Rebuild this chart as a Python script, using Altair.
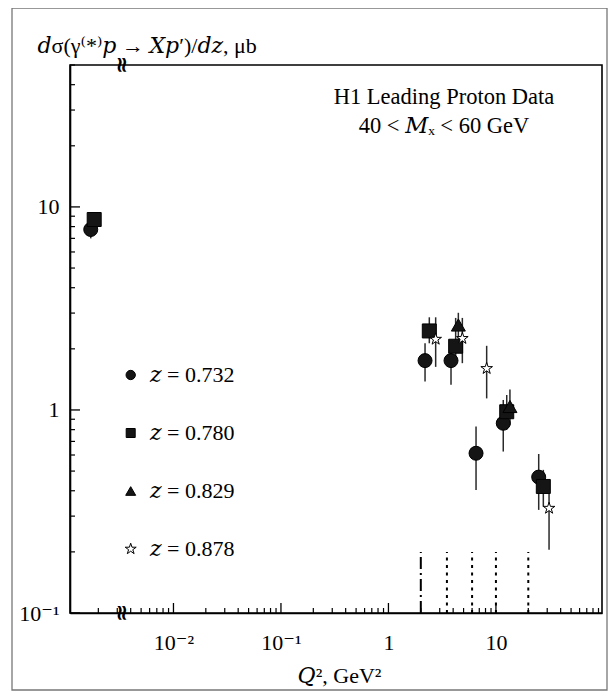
import altair as alt
import pandas as pd

# ---------------- data ----------------
series_labels = ["𝑧 = 0.732", "𝑧 = 0.780", "𝑧 = 0.829", "𝑧 = 0.878"]

# photoproduction points (Q^2 ~ 0) are drawn left of the axis break
q2_z0732 = [0.0017, 2.19, 3.82, 6.53, 11.7, 25.0]
val_z0732 = [7.74, 1.75, 1.75, 0.612, 0.86, 0.467]
lo_z0732 = [7.0, 1.38, 1.33, 0.404, 0.624, 0.322]
hi_z0732 = [8.5, 2.13, 2.14, 0.828, 1.12, 0.607]

q2_z0780 = [0.00183, 2.40, 4.22, 12.6, 27.6]
val_z0780 = [8.67, 2.45, 2.06, 0.98, 0.42]
lo_z0780 = [8.0, 2.13, 1.70, 0.80, 0.334]
hi_z0780 = [9.4, 2.86, 2.84, 1.185, 0.507]

q2_z0829 = [4.47, 13.5]
val_z0829 = [2.62, 1.04]
lo_z0829 = [2.21, 0.84]
hi_z0829 = [3.01, 1.26]

q2_z0878 = [2.75, 4.87, 8.2, 31.2]
val_z0878 = [2.23, 2.25, 1.60, 0.328]
lo_z0878 = [1.63, 1.70, 1.14, 0.205]
hi_z0878 = [2.86, 2.84, 2.07, 0.40]

bin_edges = [2.0, 3.5, 6.0, 10.0, 20.0]
bin_marker_range = [0.1, 0.2]
x_break = 0.0033

x_domain = [0.00109, 97.0]
y_domain = [0.1, 50.0]
x_label_values = [0.01, 0.1, 1.0, 10.0]
y_label_values = [0.1, 1.0, 10.0]

anno_line1 = "H1 Leading Proton Data"
anno_line2 = "40 < 𝑀ₓ < 60 GeV"
y_title = "𝑑σ(γ⁽*⁾𝑝 → 𝑋𝑝′)/𝑑𝑧, μb"
x_title = "𝑄², GeV²"

# ---------------- tables ----------------
rows = []
for lab, qs, vs, ls, hs in [
    (series_labels[0], q2_z0732, val_z0732, lo_z0732, hi_z0732),
    (series_labels[1], q2_z0780, val_z0780, lo_z0780, hi_z0780),
    (series_labels[2], q2_z0829, val_z0829, lo_z0829, hi_z0829),
    (series_labels[3], q2_z0878, val_z0878, lo_z0878, hi_z0878),
]:
    for q, v, l, h in zip(qs, vs, ls, hs):
        rows.append({"series": lab, "q2": q, "val": v, "lo": l, "hi": h})
df = pd.DataFrame(rows)
df_solid = df[df["series"] != series_labels[3]]
df_star = df[df["series"] == series_labels[3]]

bins_df = pd.DataFrame({"q2": bin_edges, "y0": bin_marker_range[0], "y1": bin_marker_range[1]})
break_df = pd.DataFrame({"q2": [x_break, x_break], "y": y_domain})

x_ticks = [k * 10.0 ** e for e in (-3, -2, -1, 0, 1) for k in range(1, 10)]
x_ticks = pd.DataFrame({"v": [t for t in x_ticks if x_domain[0] <= t <= x_domain[1]]})
y_ticks = [k * 10.0 ** e for e in (-1, 0, 1) for k in range(1, 10)]
y_ticks = pd.DataFrame({"v": [t for t in y_ticks if y_domain[0] <= t <= y_domain[1]]})

W, H = 532, 548
FONT = "Liberation Serif, DejaVu Serif, serif"
STAR = ("M0,-1L0.2245,-0.309L0.951,-0.309L0.363,0.118L0.588,0.809L0,0.382"
        "L-0.588,0.809L-0.363,0.118L-0.951,-0.309L-0.2245,-0.309Z")
SHAPES = ["circle", "square", "triangle-up", STAR]

xscale = alt.Scale(type="log", domain=x_domain, nice=False)
yscale = alt.Scale(type="log", domain=y_domain, nice=False)
shape_scale = alt.Scale(domain=series_labels, range=SHAPES)
fill_scale = alt.Scale(domain=series_labels, range=["#151515", "#151515", "#151515", "white"])

major_test = "abs(log(datum.v)/LN10 - round(log(datum.v)/LN10)) < 0.01"

x_label_axis = alt.Axis(
    orient="bottom", values=x_label_values,
    labelExpr="datum.value < 0.05 ? '10⁻²' : datum.value < 0.5 ? '10⁻¹' : datum.value < 5 ? '1' : '10'",
    ticks=False, grid=False, domain=True, domainColor="black", domainWidth=1.6,
    labelFont=FONT, labelFontSize=22, labelColor="black", labelPadding=19, labelFlush=False,
    labelOverlap=False,
    title=x_title, titleFont=FONT, titleFontSize=22, titleFontWeight="normal", titleColor="black",
    titleX=269, titleY=69, titleAlign="center", titleBaseline="alphabetic",
)
y_label_axis = alt.Axis(
    orient="left", values=y_label_values,
    labelExpr="datum.value < 0.5 ? '10⁻¹' : datum.value < 5 ? '1' : '10'",
    ticks=False, grid=False, domain=True, domainColor="black", domainWidth=1.6,
    labelFont=FONT, labelFontSize=22, labelColor="black", labelPadding=11, labelOverlap=False,
    title=y_title, titleFont=FONT, titleFontSize=22, titleFontWeight="normal", titleColor="black",
    titleAngle=0, titleX=-33, titleY=-13, titleAlign="left", titleBaseline="alphabetic",
)

# inward tick marks, drawn from the tick tables through the shared scales
xt_major = alt.Chart(x_ticks).transform_filter(major_test).mark_rule(color="black", strokeWidth=1.3).encode(
    x=alt.X("v:Q", scale=xscale, axis=None), y=alt.value(H), y2=alt.value(H - 10))
xt_minor = alt.Chart(x_ticks).transform_filter("!(" + major_test + ")").mark_rule(color="black", strokeWidth=1.2).encode(
    x=alt.X("v:Q", scale=xscale, axis=None), y=alt.value(H), y2=alt.value(H - 5))
yt_major = alt.Chart(y_ticks).transform_filter(major_test).mark_rule(color="black", strokeWidth=1.3).encode(
    y=alt.Y("v:Q", scale=yscale, axis=None), x=alt.value(0), x2=alt.value(10))
yt_minor = alt.Chart(y_ticks).transform_filter("!(" + major_test + ")").mark_rule(color="black", strokeWidth=1.2).encode(
    y=alt.Y("v:Q", scale=yscale, axis=None), x=alt.value(0), x2=alt.value(5))

errbars = alt.Chart(df).mark_rule(color="#2a2a2a", strokeWidth=1.5).encode(
    x=alt.X("q2:Q", scale=xscale, axis=x_label_axis),
    y=alt.Y("lo:Q", scale=yscale, axis=y_label_axis),
    y2="hi:Q",
)

points_solid = alt.Chart(df_solid).mark_point(filled=True, size=196, stroke="black", strokeWidth=1, opacity=1).encode(
    x=alt.X("q2:Q", scale=xscale, axis=None),
    y=alt.Y("val:Q", scale=yscale, axis=None),
    shape=alt.Shape("series:N", scale=shape_scale, legend=None),
    fill=alt.Fill("series:N", scale=fill_scale, legend=None),
)
points_star = alt.Chart(df_star).mark_point(filled=True, size=150, stroke="black", strokeWidth=1, opacity=1).encode(
    x=alt.X("q2:Q", scale=xscale, axis=None),
    y=alt.Y("val:Q", scale=yscale, axis=None),
    shape=alt.Shape("series:N", scale=shape_scale, legend=None),
    fill=alt.Fill("series:N", scale=fill_scale, legend=None),
)

# legend drawn in the plot area (symbol column + label column)
LEG_X_SYM, LEG_X_TXT = 60.7, 80
LEG_Y0, LEG_DY = 310, 58
leg_sizes = [87, 81, 100, 134]
legend_layers = []
for i, lab in enumerate(series_labels):
    ldf = pd.DataFrame({"series": [lab]})
    yv = LEG_Y0 + LEG_DY * i
    star = i == 3
    legend_layers.append(
        alt.Chart(ldf).mark_point(
            shape=SHAPES[i], filled=True, size=leg_sizes[i], opacity=1,
            fill="white" if star else "#151515", stroke="black", strokeWidth=1,
        ).encode(x=alt.value(LEG_X_SYM), y=alt.value(yv))
    )
    legend_layers.append(
        alt.Chart(ldf).mark_text(
            font=FONT, fontSize=22, align="left", baseline="middle", color="black"
        ).encode(x=alt.value(LEG_X_TXT), y=alt.value(yv), text="series:N")
    )

bin_first = alt.Chart(bins_df.iloc[:1]).mark_rule(color="black", strokeWidth=2, strokeDash=[12, 4, 2, 4]).encode(
    x=alt.X("q2:Q", scale=xscale, axis=None),
    y=alt.Y("y0:Q", scale=yscale, axis=None),
    y2="y1:Q",
)
bin_rest = alt.Chart(bins_df.iloc[1:]).mark_rule(color="black", strokeWidth=2, strokeDash=[3, 4.5]).encode(
    x=alt.X("q2:Q", scale=xscale, axis=None),
    y=alt.Y("y0:Q", scale=yscale, axis=None),
    y2="y1:Q",
)

breaks = alt.Chart(break_df).mark_text(
    text="≈", angle=90, font="DejaVu Sans", fontSize=22, fontWeight="bold",
    align="center", baseline="middle", color="black",
).encode(
    x=alt.X("q2:Q", scale=xscale, axis=None),
    y=alt.Y("y:Q", scale=yscale, axis=None),
)

anno1 = alt.Chart(pd.DataFrame({"t": [anno_line1]})).mark_text(
    font=FONT, fontSize=22.5, align="center", baseline="alphabetic", color="black"
).encode(x=alt.value(374), y=alt.value(39), text="t:N")
anno2 = alt.Chart(pd.DataFrame({"t": [anno_line2]})).mark_text(
    font=FONT, fontSize=22.5, align="center", baseline="alphabetic", color="black"
).encode(x=alt.value(374), y=alt.value(68), text="t:N")

frame = alt.Chart(pd.DataFrame({"f": [0]})).mark_rect(
    fillOpacity=0, stroke="#777777", strokeWidth=1.3
).encode(x=alt.value(-58), x2=alt.value(537), y=alt.value(-57), y2=alt.value(625))

chart = alt.layer(
    frame, xt_major, xt_minor, yt_major, yt_minor, bin_first, bin_rest,
    errbars, points_solid, points_star, breaks, anno1, anno2, *legend_layers
).resolve_axis(x="independent", y="independent").properties(
    width=W, height=H,
    autosize=alt.AutoSizeParams(type="none"),
    padding={"left": 62, "top": 57, "right": 6, "bottom": 78},
).configure_view(stroke="black", strokeWidth=1.6).configure_axis(grid=False)

chart.save("out.html", embed_options={"renderer": "svg", "actions": False})
